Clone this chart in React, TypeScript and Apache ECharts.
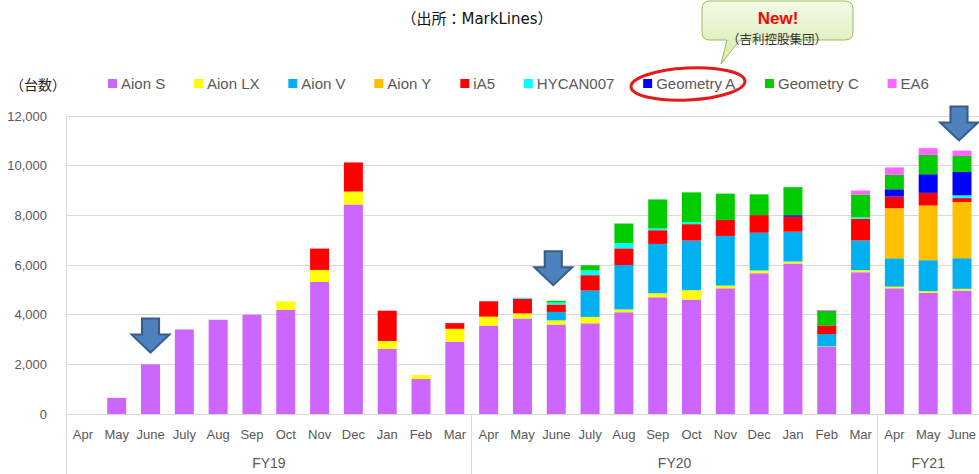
import React, { useEffect, useRef } from "react";
import * as echarts from "echarts";

const months = [
  "Apr", "May", "June", "July", "Aug", "Sep", "Oct", "Nov", "Dec", "Jan", "Feb", "Mar",
  "Apr", "May", "June", "July", "Aug", "Sep", "Oct", "Nov", "Dec", "Jan", "Feb", "Mar",
  "Apr", "May", "June",
];
const fiscalYears = ["FY19", "FY20", "FY21"];
const fiscalSpans = [12, 12, 3];

const seriesNames = ["Aion S", "Aion LX", "Aion V", "Aion Y", "iA5", "HYCAN007", "Geometry A", "Geometry C", "EA6"];
const seriesColors = ["#CC66FF", "#FFFF00", "#00B0F0", "#FFC000", "#FF0000", "#00FFFF", "#0000FF", "#00CC00", "#FF66FF"];

const aionS = [0, 650, 2000, 3400, 3800, 4000, 4200, 5320, 8440, 2620, 1410, 2910, 3560, 3850, 3600, 3650, 4100, 4700, 4610, 5060, 5670, 6060, 2700, 5710, 5060, 4880, 4970];
const aionLX = [0, 0, 0, 0, 0, 0, 330, 480, 520, 320, 160, 520, 360, 200, 170, 260, 110, 160, 375, 110, 110, 80, 20, 80, 70, 65, 70];
const aionV = [0, 0, 0, 0, 0, 0, 0, 0, 0, 0, 0, 0, 0, 0, 340, 1060, 1790, 1990, 2000, 2000, 1520, 1200, 500, 1200, 1140, 1250, 1235];
const aionY = [0, 0, 0, 0, 0, 0, 0, 0, 0, 0, 0, 0, 0, 0, 0, 0, 0, 0, 0, 0, 0, 0, 0, 0, 2015, 2200, 2260];
const iA5 = [0, 0, 0, 0, 0, 0, 0, 860, 1170, 1220, 0, 230, 620, 590, 300, 620, 670, 550, 660, 645, 710, 600, 350, 870, 470, 510, 160];
const hycan007 = [0, 0, 0, 0, 0, 0, 0, 0, 0, 0, 0, 0, 0, 40, 80, 190, 210, 70, 80, 0, 0, 0, 0, 60, 0, 0, 110];
const geometryA = [0, 0, 0, 0, 0, 0, 0, 0, 0, 0, 0, 0, 0, 0, 0, 0, 0, 0, 0, 0, 0, 65, 0, 0, 295, 750, 940];
const geometryC = [0, 0, 0, 0, 0, 0, 0, 0, 0, 0, 0, 0, 0, 0, 70, 210, 790, 1170, 1200, 1060, 835, 1130, 580, 920, 580, 780, 645];
const ea6 = [0, 0, 0, 0, 0, 0, 0, 0, 0, 0, 0, 0, 0, 0, 0, 0, 0, 0, 0, 0, 0, 0, 40, 160, 300, 270, 215];

const seriesValues = [aionS, aionLX, aionV, aionY, iA5, hycan007, geometryA, geometryC, ea6];

// annotation arrows (category index, value level of arrow centre)
const arrowIndex = [2, 14, 26];
const arrowLevel = [3160, 5870, 11700];

const titleText = "（出所：MarkLines）";
const unitText = "（台数）";
const calloutTitle = "New!";
const calloutSub = "（吉利控股集団）";

const ARROW = "path://M10.5,0 L27.5,0 L27.5,16 L38,16 L19,34 L0,16 L10.5,16 Z";

let registered = false;
function registerShapes() {
  if (registered) return;
  registered = true;
  const d =
    "M710,1 L845,1 Q853,1 853,9 L853,32 Q853,40 845,40 L740,40 L721,64 L727,40 L710,40 Q702,40 702,32 L702,9 Q702,1 710,1 Z";
  echarts.graphic.registerShape("callout", echarts.graphic.extendPath(d, {}) as any);
}

export default function App() {
  const ref = useRef<HTMLDivElement>(null);

  useEffect(() => {
    if (!ref.current) return;
    registerShapes();
    const chart = echarts.init(ref.current, null, { renderer: "svg" });

    const fyCenters: number[] = [];
    const fyBounds: number[] = [0];
    let acc = 0;
    fiscalSpans.forEach((s) => {
      fyCenters.push(acc + s / 2);
      acc += s;
      fyBounds.push(acc);
    });

    const series: any[] = seriesNames.map((name, i) => ({
      name,
      type: "bar",
      stack: "total",
      barWidth: 19,
      itemStyle: { color: seriesColors[i] },
      data: seriesValues[i],
    }));
    series[0].markPoint = {
      symbol: ARROW,
      symbolSize: [38, 34],
      itemStyle: { color: "#4F81BD", borderColor: "#385D8A", borderWidth: 2 },
      label: { show: false },
      silent: true,
      data: arrowIndex.map((idx, k) => ({
        coord: [idx, arrowLevel[k]],
        symbolOffset: k === 0 ? [0, 0] : [-3, 0],
      })),
    };

    const option: any = {
      animation: false,
      backgroundColor: "#FFFFFF",
      textStyle: { fontFamily: "Liberation Sans, Arial, sans-serif" },
      grid: { left: 66, top: 116, width: 918, height: 298, containLabel: false },
      legend: {
        left: 108,
        top: 76,
        padding: 0,
        itemWidth: 9,
        itemHeight: 9,
        itemGap: 28.8,
        icon: "rect",
        selectedMode: false,
        textStyle: { color: "#595959", fontSize: 15, fontFamily: "Liberation Sans, Arial, sans-serif", padding: [0, 0, 0, -1] },
        data: seriesNames,
      },
      xAxis: [
        {
          type: "category",
          data: months,
          axisLine: { show: true, lineStyle: { color: "#D9D9D9", width: 1 } },
          axisTick: { show: false },
          axisLabel: { color: "#595959", fontSize: 13, margin: 14, interval: 0 },
          splitLine: { show: false },
        },
        {
          type: "value",
          position: "bottom",
          min: 0,
          max: 27,
          axisLine: { show: false },
          splitLine: { show: false },
          axisTick: {
            show: true,
            customValues: fyBounds.slice(0, fyBounds.length - 1),
            length: 60,
            lineStyle: { color: "#D9D9D9", width: 1 },
          },
          axisLabel: {
            customValues: fyCenters,
            margin: 42,
            color: "#595959",
            fontSize: 14,
            formatter: (v: number) => {
              const k = fyCenters.indexOf(v);
              return k >= 0 ? fiscalYears[k] : "";
            },
          },
        },
      ],
      yAxis: {
        type: "value",
        min: 0,
        max: 12000,
        interval: 2000,
        axisLine: { show: true, lineStyle: { color: "#D9D9D9", width: 1 } },
        axisTick: { show: false },
        axisLabel: { color: "#595959", fontSize: 13, margin: 19 },
        splitLine: { show: true, lineStyle: { color: "#D9D9D9", width: 1 } },
      },
      graphic: [
        {
          type: "text",
          x: 477,
          y: 19,
          style: {
            text: titleText,
            fill: "#111111",
            fontSize: 15,
            fontFamily: "DejaVu Sans, Noto Sans CJK JP, sans-serif",
            align: "center",
            verticalAlign: "middle",
          },
        },
        {
          type: "text",
          x: 10,
          y: 84,
          style: {
            text: unitText,
            fill: "#222222",
            fontSize: 14,
            fontFamily: "Noto Sans CJK JP, sans-serif",
            verticalAlign: "middle",
          },
        },
        {
          type: "callout",
          x: 0,
          y: 0,
          z: 10,
          style: {
            fill: new echarts.graphic.LinearGradient(0, 0, 0, 1, [
              { offset: 0, color: "#F4FAE6" },
              { offset: 1, color: "#D6EBAF" },
            ]),
            stroke: "#9BBB59",
            lineWidth: 1,
          },
        },
        {
          type: "text",
          x: 778,
          y: 18,
          z: 11,
          style: {
            text: calloutTitle,
            fill: "#FF0000",
            fontSize: 17,
            fontWeight: "bold",
            fontFamily: "Liberation Sans, Arial, sans-serif",
            align: "center",
            verticalAlign: "middle",
          },
        },
        {
          type: "text",
          x: 777,
          y: 38,
          z: 11,
          style: {
            text: calloutSub,
            fill: "#333333",
            fontSize: 12.5,
            fontFamily: "Noto Sans CJK JP, sans-serif",
            align: "center",
            verticalAlign: "middle",
          },
        },
        {
          type: "ellipse",
          x: 688,
          y: 84,
          rotation: 0.05,
          z: 12,
          shape: { cx: 0, cy: 0, rx: 57, ry: 16 },
          style: { fill: "none", stroke: "#E21A1A", lineWidth: 3 },
        },
      ],
      series,
    };

    chart.setOption(option);
    return () => chart.dispose();
  }, []);

  return <div ref={ref} style={{ width: 979, height: 474, position: "absolute", left: 0, top: 0 }} />;
}
